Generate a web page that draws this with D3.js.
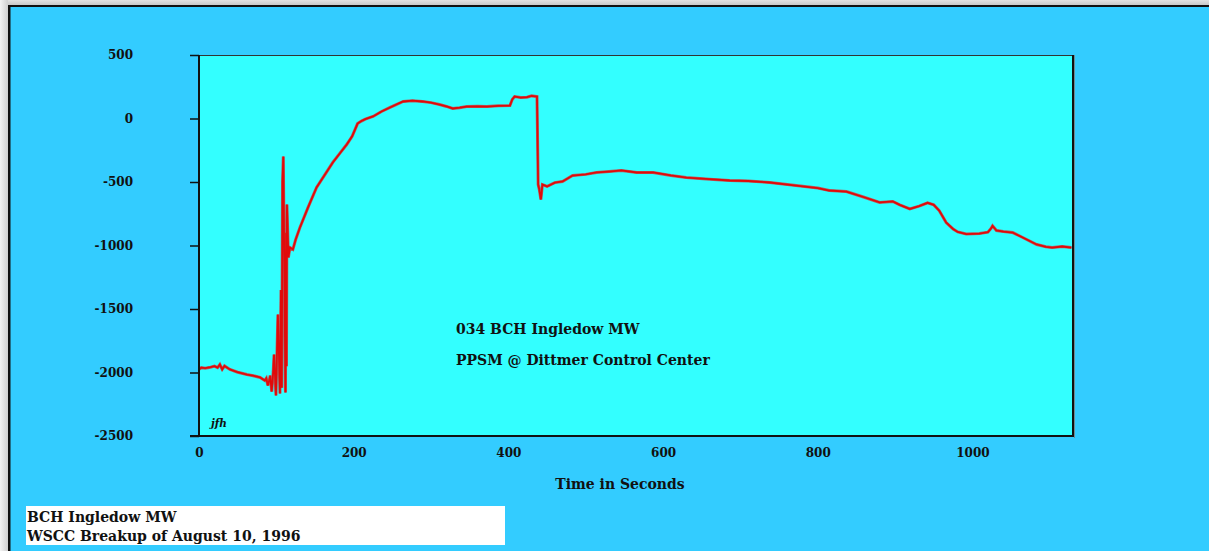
<!DOCTYPE html>
<html>
<head>
<meta charset="utf-8">
<script src="https://cdn.jsdelivr.net/npm/d3@7"></script>
<style>
html,body{margin:0;padding:0;background:#d4d4d4;overflow:hidden;}
svg{display:block;}
text{font-family:"DejaVu Serif",serif;font-weight:bold;fill:#111;}
</style>
</head>
<body>
<svg id="chart" width="1209" height="551"></svg>
<script>
// ---- data ----
const times = [0,3,8,15,20,24,27,30,33,40,50,62,70,79,85,87,89,91,92,94,96,97,99.5,102,104.7,106,107,108,109,111.8,112.6,113.1,113.7,115.6,117.6,121.4,125,130.5,141,152,163,173,182,191,198,205,210,215,225,236,247,255,264,276,289,300,311,320,328,337,346,360,372,387,402,405,408,416,424,430,437,438.5,440,442,444,450,460,470,483,500,514,530,546,566,587,610,630,660,686,710,738,772,800,815,837,860,880,897,906,919,931,942,950,957,966,975,981,992,1009,1020,1024,1026,1031,1040,1052,1065,1083,1095,1103,1116,1128];
const mw = [-1975,-1962,-1966,-1958,-1950,-1962,-1937,-1975,-1948,-1976,-1998,-2016,-2025,-2039,-2063,-2045,-2102,-2060,-2024,-2150,-1990,-1858,-2181,-1543,-2165,-1350,-2120,-500,-299,-2157,-900,-1950,-677,-1094,-1016,-1031,-953,-858,-700,-543,-440,-346,-275,-205,-140,-40,-20,-5,16,55,87,110,134,140,134,125,110,95,79,85,94,96,94,100,102,150,173,165,168,178,173,-520,-560,-638,-520,-535,-505,-496,-449,-440,-425,-418,-409,-425,-425,-448,-465,-478,-488,-492,-504,-528,-548,-567,-575,-620,-661,-653,-680,-712,-690,-664,-680,-725,-819,-870,-893,-910,-906,-895,-866,-845,-882,-890,-898,-937,-992,-1010,-1016,-1008,-1016];
const xTicks = [0,200,400,600,800,1000];
const yTicks = [500,0,-500,-1000,-1500,-2000,-2500];
const xTitle = "Time in Seconds";
const notes = ["034 BCH Ingledow MW","PPSM @ Dittmer Control Center"];
const initials = "jfh";
const captionLines = ["BCH Ingledow MW","WSCC Breakup of August 10, 1996"];

const svg = d3.select("#chart");
// outer frame
const defs = svg.append("defs");
const g1 = defs.append("linearGradient").attr("id","topg").attr("x1",0).attr("y1",0).attr("x2",0).attr("y2",1);
g1.append("stop").attr("offset","0%").attr("stop-color","#e2e2e2");
g1.append("stop").attr("offset","100%").attr("stop-color","#c4c4c4");
const g2 = defs.append("linearGradient").attr("id","leftg").attr("x1",0).attr("y1",0).attr("x2",1).attr("y2",0);
g2.append("stop").attr("offset","0%").attr("stop-color","#f4f4f4");
g2.append("stop").attr("offset","100%").attr("stop-color","#d0d0d0");
svg.append("rect").attr("x",0).attr("y",0).attr("width",1209).attr("height",6).attr("fill","url(#topg)");
svg.append("rect").attr("x",0).attr("y",0).attr("width",8).attr("height",551).attr("fill","url(#leftg)");
svg.append("rect").attr("x",10).attr("y",7).attr("width",1199).attr("height",544).attr("fill","#33ccff");
svg.append("rect").attr("x",8).attr("y",5).attr("width",1201).attr("height",2).attr("fill","#111");
svg.append("rect").attr("x",8).attr("y",5).attr("width",2.5).attr("height",546).attr("fill","#111");

// scales
const x = d3.scaleLinear().domain([0,1130]).range([199,1073]);
const y = d3.scaleLinear().domain([-2500,500]).range([436,55]);

// plot background
svg.append("rect").attr("x",x(0)).attr("y",y(500)).attr("width",x(1130)-x(0)).attr("height",y(-2500)-y(500)).attr("fill","#33ffff");
// top & right border
svg.append("line").attr("x1",x(0)).attr("x2",x(1130)).attr("y1",y(500)+0.5).attr("y2",y(500)+0.5).attr("stroke","#333").attr("stroke-width",1.2);
svg.append("line").attr("x1",x(1130)+1.5).attr("x2",x(1130)+1.5).attr("y1",y(500)).attr("y2",y(-2500)+2).attr("stroke","#6a8c96").attr("stroke-width",1);
svg.append("line").attr("x1",x(1130)).attr("x2",x(1130)).attr("y1",y(500)).attr("y2",y(-2500)+1).attr("stroke","#111").attr("stroke-width",2);

// line
const line = d3.line().x((d,i)=>x(times[i])).y(d=>y(d));
svg.append("path").datum(mw).attr("d",line).attr("fill","none").attr("stroke","#b06060").attr("stroke-width",3).attr("stroke-linejoin","miter");
svg.append("path").datum(mw).attr("d",line).attr("fill","none").attr("stroke","#e00a0a").attr("stroke-width",1.8).attr("stroke-linejoin","miter");

// axes
const fmt = d => String(d);
const yAxis = d3.axisLeft(y).tickValues(yTicks).tickSize(9).tickPadding(57).tickFormat(fmt);
const ya = svg.append("g").attr("transform",`translate(${x(0)},0)`).call(yAxis);
ya.select(".domain").attr("stroke","#111").attr("stroke-width",2).attr("d",`M0,${y(500)}V${y(-2500)+1}`);
ya.selectAll(".tick line").attr("stroke","#111").attr("stroke-width",1.5);
ya.selectAll("text").style("font-family","DejaVu Serif").style("font-weight","bold").style("font-size","12px").attr("fill","#111");

const xAxis = d3.axisBottom(x).tickValues(xTicks).tickSize(0).tickPadding(12).tickFormat(fmt);
const xa = svg.append("g").attr("transform",`translate(0,${y(-2500)})`).call(xAxis);
xa.select(".domain").attr("stroke","#111").attr("stroke-width",2).attr("d",`M${x(0)-9},0H${x(1130)+1}`);
xa.selectAll("text").style("font-family","DejaVu Serif").style("font-weight","bold").style("font-size","12px").attr("fill","#111");

svg.append("text").attr("x",620).attr("y",489).attr("text-anchor","middle").style("font-size","14px").text(xTitle);

// notes
svg.append("text").attr("x",456).attr("y",334).style("font-size","14px").text(notes[0]);
svg.append("text").attr("x",456).attr("y",365).style("font-size","14px").text(notes[1]);
svg.append("text").attr("x",211).attr("y",427).style("font-size","10.5px").style("font-style","italic").text(initials);

// caption box
svg.append("rect").attr("x",26).attr("y",506).attr("width",479).attr("height",39).attr("fill","#fff");
svg.append("text").attr("x",27).attr("y",522).style("font-size","14px").text(captionLines[0]);
svg.append("text").attr("x",27).attr("y",541).style("font-size","14px").text(captionLines[1]);
</script>
</body>
</html>
